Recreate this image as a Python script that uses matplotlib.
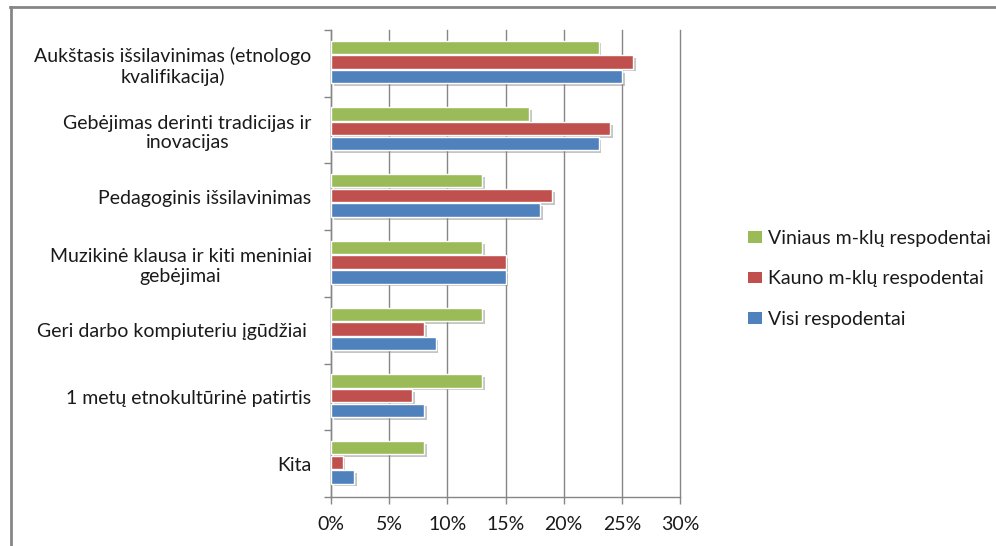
import numpy as np
import matplotlib
matplotlib.use('Agg')
import matplotlib.pyplot as plt
import matplotlib.patheffects as pe
from matplotlib.lines import Line2D
from matplotlib.ticker import FixedLocator, FuncFormatter

categories = [
    'Aukštasis išsilavinimas (etnologo\nkvalifikacija)',
    'Gebėjimas derinti tradicijas ir\ninovacijas',
    'Pedagoginis išsilavinimas',
    'Muzikinė klausa ir kiti meniniai\ngebėjimai',
    'Geri darbo kompiuteriu įgūdžiai ',
    '1 metų etnokultūrinė patirtis',
    'Kita',
]
vilnius = [23, 17, 13, 13, 13, 13, 8]
kaunas = [26, 24, 19, 15, 8, 7, 1]
visi = [25, 23, 18, 15, 9, 8, 2]
series_names = ['Viniaus m-klų respodentai', 'Kauno m-klų respodentai', 'Visi respodentai']
colors = ['#9BBB59', '#C0504D', '#4F81BD']
x_ticks = [0, 5, 10, 15, 20, 25, 30]

plt.rcParams['font.family'] = ['Lato', 'DejaVu Sans']
grey = '#868686'
txt = '#1a1a1a'
fs = 14

fig = plt.figure(figsize=(9.96, 5.46), dpi=100)
ax = fig.add_axes([331 / 996, 1 - 497 / 546, 349 / 996, 467 / 546])

n = len(categories)
ypos = np.arange(n)[::-1]
shift = 0.02
step = 0.22
h = 0.2
shadow = [pe.SimplePatchShadow(offset=(2, -2), shadow_rgbFace='#808080', alpha=0.45), pe.Normal()]
handles = []
for k, (vals, col) in enumerate(zip([vilnius, kaunas, visi], colors)):
    bars = ax.barh(ypos + shift + step * (1 - k), vals, height=h, color=col,
                   edgecolor='white', linewidth=1, path_effects=shadow, zorder=3)
    handles.append(bars)

ax.set_xlim(0, 30)
ax.set_ylim(-0.5, n - 0.5)
ax.xaxis.set_major_locator(FixedLocator(x_ticks))
ax.xaxis.set_major_formatter(FuncFormatter(lambda v, p: f'{v:.0f}%'))
ax.grid(axis='x', color=grey, linewidth=1, zorder=0)
for gl in ax.get_xgridlines():
    gl.set_clip_on(False)
ax.set_yticks(ypos)
ax.set_yticklabels(categories, ha='right', multialignment='center')
ax.set_yticks(np.arange(n + 1) - 0.5, minor=True)
ax.tick_params(axis='y', which='major', length=0, pad=14, labelsize=fs, labelcolor=txt)
ax.tick_params(axis='y', which='minor', length=5, width=1, color=grey, direction='out')
ax.tick_params(axis='x', length=5, width=1, color=grey, pad=9, labelsize=fs, labelcolor=txt)
for s in ['top', 'right']:
    ax.spines[s].set_visible(False)
for s in ['left', 'bottom']:
    ax.spines[s].set_color(grey)
    ax.spines[s].set_linewidth(1)

leg = fig.legend(handles, series_names, loc='center left', bbox_to_anchor=(730 / 996, 1 - 279 / 546),
                 frameon=False, fontsize=fs, handlelength=0.75, handleheight=0.55,
                 handletextpad=0.3, labelspacing=1.2)
for t in leg.get_texts():
    t.set_color(txt)
for hnd in leg.legend_handles:
    hnd.set_path_effects([])
    hnd.set_edgecolor('none')

# outer chart frame
fig.add_artist(Line2D([10.5 / 996, 10.5 / 996], [0, 1 - 6.5 / 546], color=grey, linewidth=2))
fig.add_artist(Line2D([10 / 996, 1], [1 - 6.5 / 546, 1 - 6.5 / 546], color=grey, linewidth=2))

fig.savefig('out.png', dpi=100)
